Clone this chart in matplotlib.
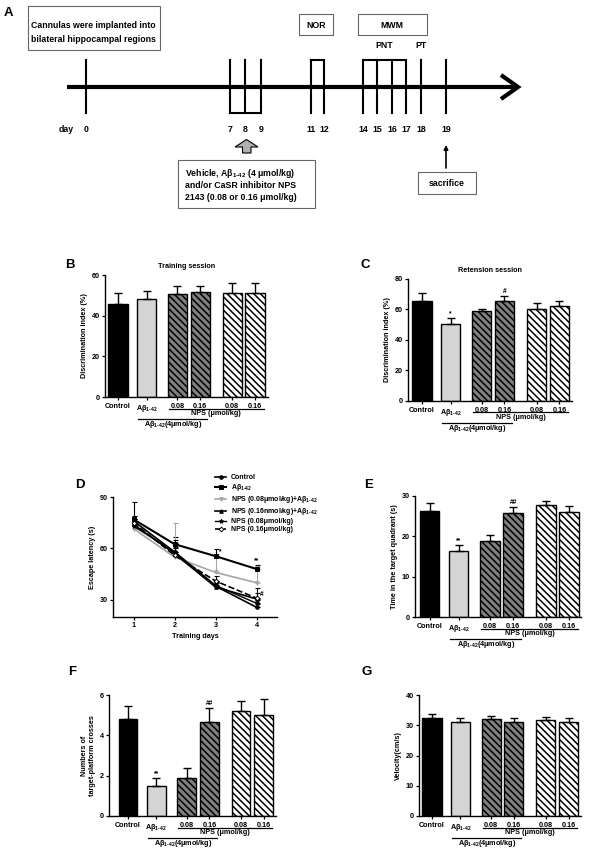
import matplotlib
matplotlib.use('Agg')
import matplotlib.pyplot as plt
import matplotlib.transforms as mtransforms
from matplotlib.patches import Rectangle, Polygon

plt.rcParams['font.family'] = ['Liberation Sans', 'DejaVu Sans']
plt.rcParams['font.weight'] = 'bold'
plt.rcParams['axes.labelweight'] = 'bold'
plt.rcParams['axes.titleweight'] = 'bold'
plt.rcParams['mathtext.fontset'] = 'custom'
plt.rcParams['mathtext.rm'] = 'Liberation Sans:bold'
plt.rcParams['mathtext.it'] = 'Liberation Sans:bold'
plt.rcParams['mathtext.bf'] = 'Liberation Sans:bold'
plt.rcParams['mathtext.default'] = 'rm'
plt.rcParams['hatch.linewidth'] = 1.1

W, H = 611, 850
fig = plt.figure(figsize=(6.11, 8.5), dpi=100)

AB = 'A\u03b2$_{1\\text{-}42}$'

# ---------------- data ----------------
timeline_days = ['0', '7', '8', '9', '11', '12', '14', '15', '16', '17', '18', '19']
timeline_pos = [86, 230, 245, 261, 311, 324, 363, 377, 392, 406, 421, 446]

group_labels = ['Control', AB, '0.08', '0.16', '0.08', '0.16']
bar_pos = [0, 1.25, 2.6, 3.6, 5.0, 6.0]

train_mean = [45.5, 48.3, 50.7, 51.7, 51.3, 51.3]
train_err = [5.5, 3.8, 3.7, 2.7, 5.0, 5.0]
ret_mean = [65.3, 50.6, 59.2, 65.3, 60.5, 62.5]
ret_err = [5.5, 3.8, 1.3, 3.7, 3.7, 3.3]
quad_mean = [26.3, 16.4, 18.8, 25.9, 27.8, 26.1]
quad_err = [2.0, 1.4, 1.5, 1.4, 1.0, 1.4]
cross_mean = [4.79, 1.48, 1.90, 4.68, 5.22, 5.00]
cross_err = [0.66, 0.38, 0.50, 0.66, 0.50, 0.79]
vel_mean = [32.5, 31.2, 32.2, 31.2, 31.6, 31.0]
vel_err = [1.1, 1.1, 0.8, 1.3, 1.2, 1.3]

ret_sig = {1: '*', 3: '#'}
quad_sig = {1: '**', 3: '##'}
cross_sig = {1: '**', 3: '##'}

days = [1, 2, 3, 4]
lat_labels = ['Control', AB, 'NPS (0.08\u03bcmol/kg)+' + AB,
              'NPS (0.16nmol/kg)+' + AB, 'NPS (0.08\u03bcmol/kg)',
              'NPS (0.16\u03bcmol/kg)']
lat_control = [76.0, 58.0, 38.0, 25.7]
lat_ab = [77.0, 62.5, 55.5, 48.0]
lat_nps08_ab = [71.5, 55.0, 46.0, 40.0]
lat_nps16_ab = [74.0, 57.0, 37.5, 30.5]
lat_nps08 = [73.0, 58.0, 38.5, 28.0]
lat_nps16 = [75.0, 56.0, 41.0, 31.0]
err_control = [3.0, 3.0, 2.0, 2.0]
err_ab = [10.0, 4.0, 4.0, 2.5]
err_nps08_ab = [2.0, 20.0, 10.0, 10.0]
err_nps16_ab = [3.0, 8.0, 3.0, 6.5]
err_nps08 = [2.0, 5.0, 2.0, 2.0]
err_nps16 = [2.0, 4.0, 3.0, 3.0]

FS = 5.2


def px_axes(left, right, bottom, top):
    return fig.add_axes([left / W, 1 - bottom / H, (right - left) / W, (bottom - top) / H])


# ---------------- Panel A (schematic) ----------------
axA = fig.add_axes([0, 1 - 215 / H, 1, 215 / H])
axA.set_xlim(0, W)
axA.set_ylim(215, 0)
axA.axis('off')
FA = 6.3
axA.plot([67, 514], [87, 87], color='black', lw=3.0, solid_capstyle='butt')
axA.plot([501, 518, 501], [75, 87, 99], color='black', lw=3.0,
         solid_joinstyle='miter', solid_capstyle='butt')
for d, x in zip(timeline_days, timeline_pos):
    axA.plot([x, x], [60, 113], color='black', lw=1.5)
    axA.text(x, 129, d, ha='center', va='center', fontsize=6.3)
axA.text(66, 129, 'day', ha='center', va='center', fontsize=6.3)
p = dict(zip(timeline_days, timeline_pos))
axA.plot([p['7'], p['9']], [113, 113], color='black', lw=1.5, solid_capstyle='projecting')
axA.plot([p['11'], p['12']], [60, 60], color='black', lw=1.5, solid_capstyle='projecting')
axA.plot([p['14'], p['17']], [60, 60], color='black', lw=1.5, solid_capstyle='projecting')

box_kw = dict(fill=False, edgecolor='#666666', lw=0.8)
axA.add_patch(Rectangle((28, 6), 132, 44, **box_kw))
axA.text(31, 25, 'Cannulas were implanted into', ha='left', va='center', fontsize=FA)
axA.text(31, 39, 'bilateral hippocampal regions', ha='left', va='center', fontsize=FA)
axA.add_patch(Rectangle((299, 14), 34, 21, **box_kw))
axA.text(316, 25, 'NOR', ha='center', va='center', fontsize=FA)
axA.add_patch(Rectangle((358, 14), 69, 21, **box_kw))
axA.text(392, 25, 'MWM', ha='center', va='center', fontsize=FA)
axA.text(384, 46, 'PNT', ha='center', va='center', fontsize=FA)
axA.text(421, 46, 'PT', ha='center', va='center', fontsize=FA)
axA.add_patch(Polygon([(246.5, 139.5), (258, 147), (251, 147), (251, 153),
                       (242.5, 153), (242.5, 147), (235, 147)],
                      closed=True, facecolor='#b0b0b0', edgecolor='black', lw=0.8))
axA.add_patch(Rectangle((178, 160), 137, 48, **box_kw))
axA.text(185, 173, 'Vehicle, ' + AB + ' (4 \u03bcmol/kg)', ha='left', va='center', fontsize=FA)
axA.text(185, 185.5, 'and/or CaSR inhibitor NPS', ha='left', va='center', fontsize=FA)
axA.text(185, 198, '2143 (0.08 or 0.16 \u03bcmol/kg)', ha='left', va='center', fontsize=FA)
axA.annotate('', xy=(446, 145), xytext=(446, 168),
             arrowprops=dict(arrowstyle='-|>', color='black', lw=1.2,
                             mutation_scale=6, shrinkA=0, shrinkB=0))
axA.add_patch(Rectangle((418, 172), 58, 22, **box_kw))
axA.text(447, 183, 'sacrifice', ha='center', va='center', fontsize=FA)


# ---------------- bar panels ----------------
fills = ['black', '#d4d4d4', '#808080', '#808080', 'white', 'white']
hatches = [None, None, '\\\\\\\\\\', '\\\\\\\\\\', '\\\\\\\\\\', '\\\\\\\\\\']


def style_axes(ax):
    for s in ['top', 'right']:
        ax.spines[s].set_visible(False)
    for s in ['left', 'bottom']:
        ax.spines[s].set_linewidth(1.0)
    ax.tick_params(axis='both', which='both', direction='out', length=2.2,
                   width=0.9, labelsize=FS, pad=1.5)


def bar_panel(rect, means, errs, ymax, yticks, ylabel, sig=None, title=None):
    left, right, bottom, top, c0, u = rect
    ax = px_axes(left, right, bottom, top)
    hpx = bottom - top
    ax.set_xlim((left - c0) / u, (right - c0) / u)
    ax.set_ylim(0, ymax)
    bars = ax.bar(bar_pos, means, width=0.84, color=fills, edgecolor='black',
                  linewidth=1.0, zorder=2)
    for b, h in zip(bars, hatches):
        if h:
            b.set_hatch(h)
    ax.errorbar(bar_pos, means, yerr=[[0] * len(errs), errs], fmt='none',
                ecolor='black', elinewidth=1.0, capsize=3.2, capthick=1.0, zorder=3)
    style_axes(ax)
    ax.set_yticks(yticks)
    ax.set_xticks(bar_pos)
    ax.set_xticklabels(group_labels)
    ax.tick_params(axis='x', pad=1.8)
    ax.set_ylabel(ylabel, fontsize=FS, labelpad=2.5)
    if title:
        ax.set_title(title, fontsize=FS, pad=5)
    if sig:
        for i, s in sig.items():
            ax.annotate(s, (bar_pos[i], means[i] + errs[i]), xytext=(0, 0.6),
                        textcoords='offset points', ha='center', va='bottom',
                        fontsize=4.8)
    tr = mtransforms.blended_transform_factory(ax.transData, ax.transAxes)
    y1 = -11.5 / hpx
    ax.plot([bar_pos[2] - 0.38, bar_pos[5] + 0.38], [y1, y1], color='black',
            lw=0.9, transform=tr, clip_on=False)
    ax.text((bar_pos[2] + bar_pos[5]) / 2, -16.5 / hpx, 'NPS (\u03bcmol/kg)',
            transform=tr, ha='center', va='center', fontsize=FS)
    y2 = -22 / hpx
    ax.plot([bar_pos[1] - 0.38, bar_pos[3] + 0.32], [y2, y2], color='black',
            lw=0.9, transform=tr, clip_on=False)
    ax.text((bar_pos[1] + bar_pos[3]) / 2, -27.5 / hpx, AB + '(4\u03bcmol/kg)',
            transform=tr, ha='center', va='center', fontsize=FS)
    return ax


bar_panel((105, 268, 397, 275, 118, 22.83), train_mean, train_err, 60,
          [0, 20, 40, 60], 'Discrimination index (%)', title='Training session')
bar_panel((408, 572, 401, 279, 422, 22.9), ret_mean, ret_err, 80,
          [0, 20, 40, 60, 80], 'Discrimination index (%)', sig=ret_sig,
          title='Retension session')
bar_panel((415, 581, 617, 496, 429.5, 23.25), quad_mean, quad_err, 30,
          [0, 10, 20, 30], 'Time in the target quadrant (s)', sig=quad_sig)
bar_panel((109, 276, 816, 695, 128, 22.6), cross_mean, cross_err, 6,
          [0, 2, 4, 6], 'Numbers of\ntarget-platform crosses', sig=cross_sig)
bar_panel((419, 581, 816, 695, 432, 22.75), vel_mean, vel_err, 40,
          [0, 10, 20, 30, 40], 'Velocity(cm/s)')

# ---------------- Panel D (line chart) ----------------
axD = px_axes(113, 277, 617, 497)
axD.set_xlim(0.5, 4.5)
axD.set_ylim(20, 90)
style_axes(axD)
axD.set_xticks(days)
axD.set_yticks([30, 60, 90])
axD.set_xlabel('Training days', fontsize=FS, labelpad=3)
axD.set_ylabel('Escape latency (s)', fontsize=FS, labelpad=3)

series = [
    (lat_control, err_control, dict(color='black', marker='o', ms=2.6, lw=1.2, ls='-')),
    (lat_ab, err_ab, dict(color='black', marker='s', ms=2.6, lw=1.5, ls='-')),
    (lat_nps08_ab, err_nps08_ab, dict(color='#a6a6a6', marker='v', ms=2.6, lw=1.2, ls='-')),
    (lat_nps16_ab, err_nps16_ab, dict(color='black', marker='^', ms=2.6, lw=1.2, ls='-')),
    (lat_nps08, err_nps08, dict(color='black', marker='*', ms=3.0, lw=1.0, ls='-')),
    (lat_nps16, err_nps16, dict(color='black', marker='D', ms=2.4, lw=1.2, ls='--',
                                mfc='white')),
]
handles = []
for (vals, errs, kw), lab in zip(series, lat_labels):
    axD.errorbar(days, vals, yerr=[[0] * 4, errs], fmt='none', ecolor=kw['color'],
                 elinewidth=0.8, capsize=1.8, capthick=0.8, zorder=2)
    ln, = axD.plot(days, vals, label=lab, zorder=3, mew=0.7, **kw)
    handles.append(ln)
axD.text(3.12, lat_ab[2] + err_ab[2] - 1.5, '*', fontsize=4.8, ha='center', va='center')
axD.text(4.0, lat_ab[3] + err_ab[3] + 2.5, '**', fontsize=4.8, ha='center', va='center')
axD.text(4.12, lat_nps16_ab[3] + 2.5, '#', fontsize=4.8, ha='center', va='center')
fig.legend(handles=handles, labels=lat_labels, loc='upper left',
           bbox_to_anchor=(215 / W, 1 - 474 / H), frameon=False, fontsize=5.0,
           handlelength=1.6, handletextpad=0.7, labelspacing=0.15,
           borderpad=0, borderaxespad=0)

# ---------------- panel letters ----------------
for letter, x, y in [('A', 8, 13), ('B', 70, 265), ('C', 365, 265), ('D', 80, 485),
                     ('E', 369, 485), ('F', 72, 672), ('G', 367, 672)]:
    fig.text(x / W, 1 - y / H, letter, fontsize=9.5, ha='center', va='center')

fig.savefig('out.png', dpi=100)
